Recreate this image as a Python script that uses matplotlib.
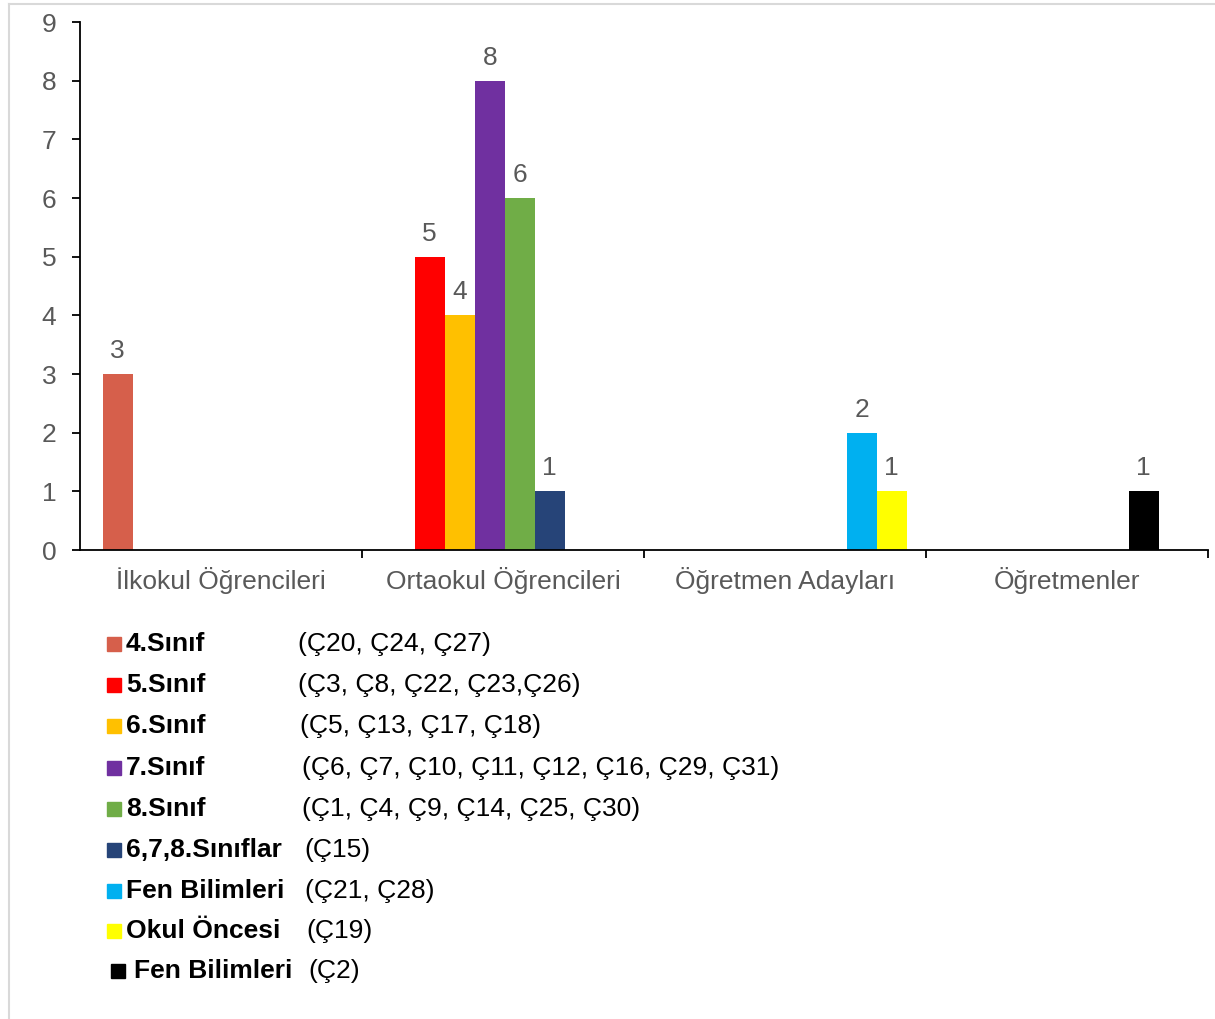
import matplotlib.pyplot as plt
import numpy as np

plt.rcParams['font.family'] = ['Liberation Sans', 'DejaVu Sans']

categories = ['İlkokul Öğrencileri', 'Ortaokul Öğrencileri', 'Öğretmen Adayları', 'Öğretmenler']
series_names = ['4.Sınıf', '5.Sınıf', '6.Sınıf', '7.Sınıf', '8.Sınıf',
                '6,7,8.Sınıflar', 'Fen Bilimleri', 'Okul Öncesi']
values = [
    [3, 0, 0, 0],
    [0, 5, 0, 0],
    [0, 4, 0, 0],
    [0, 8, 0, 0],
    [0, 6, 0, 0],
    [0, 1, 0, 0],
    [0, 0, 2, 1],
    [0, 0, 1, 0],
]
colors = ['#D65F4B', '#FF0000', '#FFC000', '#7030A0', '#70AD47',
          '#264478', '#00B0F0', '#FFFF00']
# the teacher bar of "Fen Bilimleri" is drawn in black
point_colors = {(6, 3): '#000000'}

legend_labels = ['4.Sınıf', '5.Sınıf', '6.Sınıf', '7.Sınıf', '8.Sınıf',
                 '6,7,8.Sınıflar', 'Fen Bilimleri', 'Okul Öncesi', 'Fen Bilimleri']
legend_codes = ['(Ç20, Ç24, Ç27)', '(Ç3, Ç8, Ç22, Ç23,Ç26)', '(Ç5, Ç13, Ç17, Ç18)',
                '(Ç6, Ç7, Ç10, Ç11, Ç12, Ç16, Ç29, Ç31)', '(Ç1, Ç4, Ç9, Ç14, Ç25, Ç30)',
                '(Ç15)', '(Ç21, Ç28)', '(Ç19)', '(Ç2)']
legend_colors = colors + ['#000000']

W, H = 1215, 1019
fig = plt.figure(figsize=(W / 100, H / 100), dpi=100)
ax = fig.add_axes([80 / W, 1 - 550 / H, 1128 / W, 528 / H])

gray = '#595959'
fs = 19
n = len(series_names)
w = 1 / 9.4
x = np.arange(len(categories))
for k in range(n):
    for i in range(len(categories)):
        v = values[k][i]
        if v == 0:
            continue
        xc = x[i] + (k - (n - 1) / 2) * w + 0.006
        c = point_colors.get((k, i), colors[k])
        ax.bar(xc, v, width=w, color=c, linewidth=0)
        ax.annotate(str(v), (xc, v), xytext=(0, 8), textcoords='offset points',
                    ha='center', va='bottom', fontsize=fs, color=gray)

ax.set_xlim(-0.5, 3.5)
ax.set_ylim(0, 9)
ax.set_yticks(range(10))
ax.set_xticks(x)
ax.set_xticklabels(categories)
ax.set_xticks(np.arange(4) + 0.5, minor=True)
ax.tick_params(axis='x', which='major', length=0, pad=12, labelsize=fs, labelcolor=gray)
ax.tick_params(axis='x', which='minor', length=6, width=1.3, direction='out', color='black')
ax.tick_params(axis='y', length=6, width=1.3, direction='out', pad=11,
               labelsize=fs, labelcolor=gray, color='black')
for s in ['top', 'right']:
    ax.spines[s].set_visible(False)
for s in ['left', 'bottom']:
    ax.spines[s].set_linewidth(1.3)
    ax.spines[s].set_color('black')

# legend block below the chart
rows_y = [644, 685, 726, 768, 809, 850, 891, 931, 971]
code_x = [298, 298, 300, 302, 302, 304, 305, 306, 308]
for j in range(len(legend_labels)):
    y = rows_y[j]
    sx = 107 if j < 8 else 111
    tx = 126 if j < 8 else 134
    fig.patches.append(plt.Rectangle((sx / W, 1 - (y + 7) / H), 14 / W, 14 / H,
                                     transform=fig.transFigure, color=legend_colors[j]))
    fig.text(tx / W, 1 - y / H, legend_labels[j], fontsize=fs, fontweight='bold',
             va='center', ha='left', color='black')
    fig.text(code_x[j] / W, 1 - y / H, legend_codes[j], fontsize=fs,
             va='center', ha='left', color='black')

# thin frame lines at the top and left of the figure
fig.add_artist(plt.Line2D([9 / W, 1], [1 - 4 / H, 1 - 4 / H], color='#D9D9D9', lw=1.5))
fig.add_artist(plt.Line2D([9 / W, 9 / W], [0, 1 - 4 / H], color='#D9D9D9', lw=1.5))

fig.savefig('out.png', dpi=100)
